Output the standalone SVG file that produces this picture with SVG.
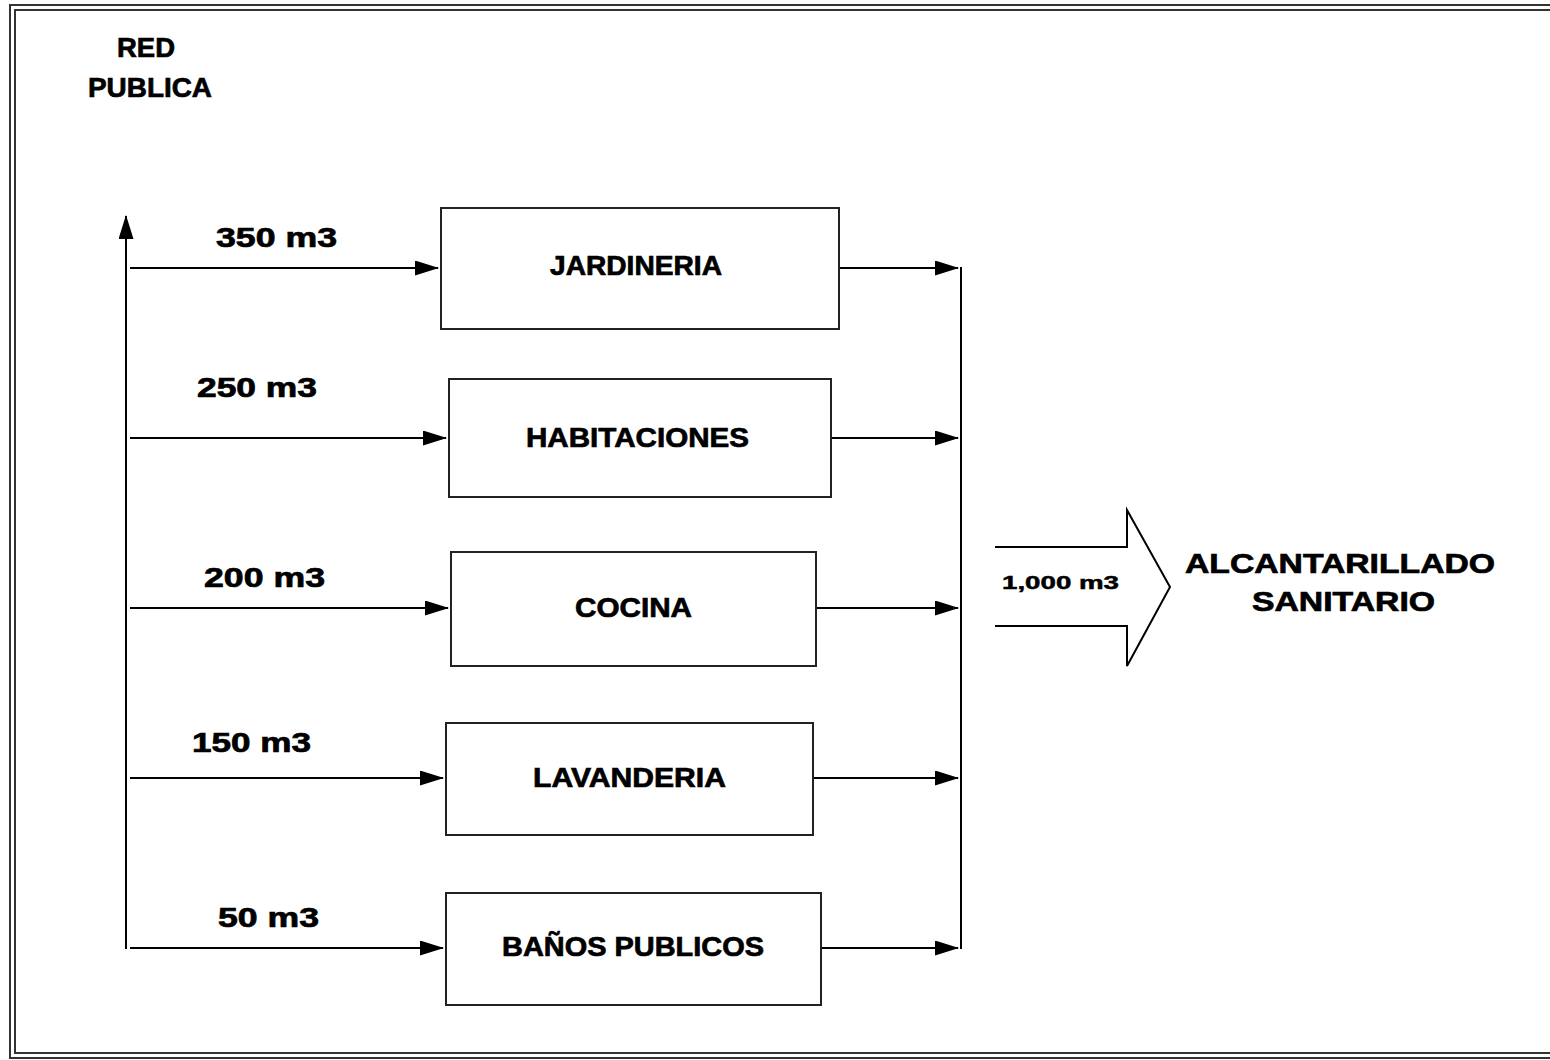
<svg xmlns="http://www.w3.org/2000/svg" width="1550" height="1060" viewBox="0 0 1550 1060">
<defs>
<style>
.ln{stroke:#000;stroke-width:2;fill:none}
.box{stroke:#222;stroke-width:2;fill:#fff}
.t{font-family:"Liberation Sans",Arial,sans-serif;font-weight:bold;fill:#000;stroke:#000;stroke-width:0.7;font-size:27px}
.f{stroke:#333;stroke-width:2;fill:none}
</style>
<marker id="ah" markerWidth="26" markerHeight="16" refX="23" refY="7.5" orient="auto" markerUnits="userSpaceOnUse">
<path d="M0,0 L24,7.5 L0,15 z" fill="#000"/>
</marker>
</defs>
<rect x="0" y="0" width="1550" height="1060" fill="#fff"/>
<g id="frame">
<rect class="f" x="10" y="5" width="1560" height="1053"/>
<rect class="f" x="15" y="10" width="1560" height="1043"/>
</g>
<g id="red-publica">
<text class="t" x="117" y="57" textLength="58" lengthAdjust="spacingAndGlyphs">RED</text>
<text class="t" x="88" y="97" textLength="124" lengthAdjust="spacingAndGlyphs">PUBLICA</text>
</g>
<g id="connectors">
<line class="ln" x1="126" y1="949" x2="126" y2="216" marker-end="url(#ah)"/>
<line class="ln" x1="130" y1="268" x2="438" y2="268" marker-end="url(#ah)"/>
<line class="ln" x1="130" y1="438" x2="446" y2="438" marker-end="url(#ah)"/>
<line class="ln" x1="130" y1="608" x2="448" y2="608" marker-end="url(#ah)"/>
<line class="ln" x1="130" y1="778" x2="443" y2="778" marker-end="url(#ah)"/>
<line class="ln" x1="130" y1="948" x2="443" y2="948" marker-end="url(#ah)"/>
<line class="ln" x1="839" y1="268" x2="958" y2="268" marker-end="url(#ah)"/>
<line class="ln" x1="831" y1="438" x2="958" y2="438" marker-end="url(#ah)"/>
<line class="ln" x1="816" y1="608" x2="958" y2="608" marker-end="url(#ah)"/>
<line class="ln" x1="813" y1="778" x2="958" y2="778" marker-end="url(#ah)"/>
<line class="ln" x1="821" y1="948" x2="958" y2="948" marker-end="url(#ah)"/>
<line class="ln" x1="961" y1="267" x2="961" y2="949"/>
<path class="ln" d="M995,547 L1127,547 L1127,510 L1170,587 L1127,666 L1127,626 L995,626" stroke-width="1.8"/>
</g>
<g id="labels">
<text class="t" x="216" y="247" textLength="121" lengthAdjust="spacingAndGlyphs">350 m3</text>
<text class="t" x="197" y="397" textLength="120" lengthAdjust="spacingAndGlyphs">250 m3</text>
<text class="t" x="204" y="587" textLength="121" lengthAdjust="spacingAndGlyphs">200 m3</text>
<text class="t" x="192" y="752" textLength="119" lengthAdjust="spacingAndGlyphs">150 m3</text>
<text class="t" x="218" y="927" textLength="101" lengthAdjust="spacingAndGlyphs">50 m3</text>
<text class="t" x="1002" y="589" textLength="117" lengthAdjust="spacingAndGlyphs" style="font-size:19px;stroke-width:0.5">1,000 m3</text>
</g>
<g id="jardineria">
<rect class="box" x="441" y="208" width="398" height="121"/>
<text class="t" x="550" y="275" textLength="172" lengthAdjust="spacingAndGlyphs">JARDINERIA</text>
</g>
<g id="habitaciones">
<rect class="box" x="449" y="379" width="382" height="118"/>
<text class="t" x="526" y="447" textLength="223" lengthAdjust="spacingAndGlyphs">HABITACIONES</text>
</g>
<g id="cocina">
<rect class="box" x="451" y="552" width="365" height="114"/>
<text class="t" x="575" y="617" textLength="117" lengthAdjust="spacingAndGlyphs">COCINA</text>
</g>
<g id="lavanderia">
<rect class="box" x="446" y="723" width="367" height="112"/>
<text class="t" x="533" y="787" textLength="193" lengthAdjust="spacingAndGlyphs">LAVANDERIA</text>
</g>
<g id="banos-publicos">
<rect class="box" x="446" y="893" width="375" height="112"/>
<text class="t" x="502" y="956" textLength="262" lengthAdjust="spacingAndGlyphs">BAÑOS PUBLICOS</text>
</g>
<g id="alcantarillado">
<text class="t" x="1185" y="573" textLength="310" lengthAdjust="spacingAndGlyphs">ALCANTARILLADO</text>
<text class="t" x="1252" y="611" textLength="183" lengthAdjust="spacingAndGlyphs">SANITARIO</text>
</g>
</svg>
